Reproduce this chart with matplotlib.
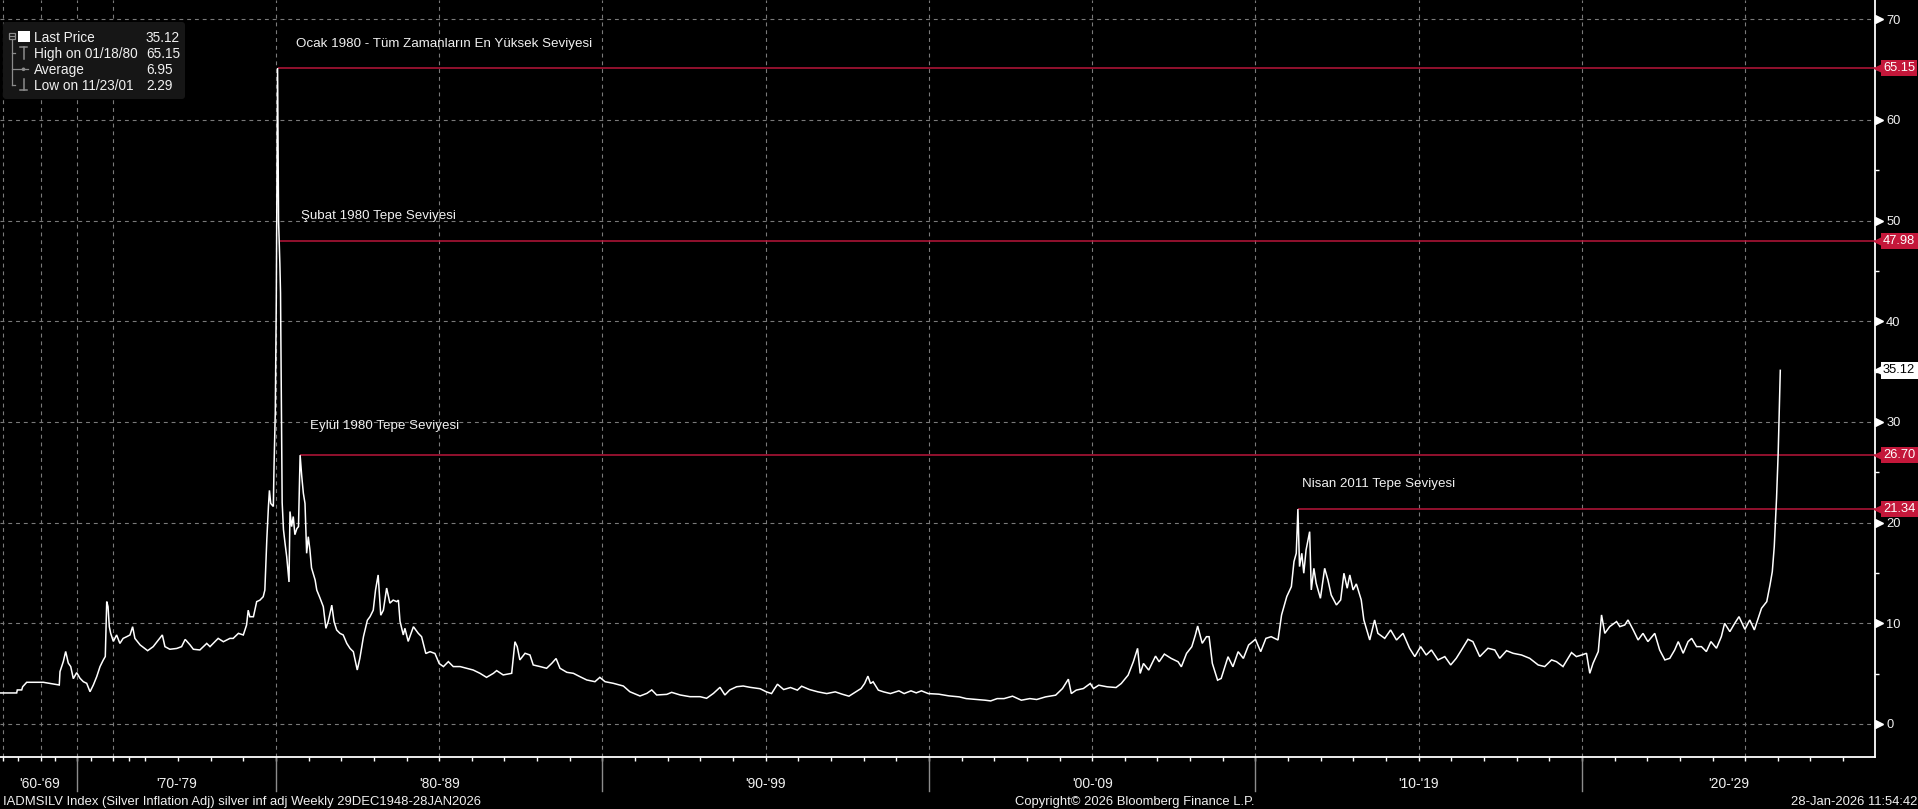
import numpy as np
import matplotlib
matplotlib.use("Agg")
import matplotlib.pyplot as plt
from matplotlib import transforms
from matplotlib.patches import Rectangle, FancyBboxPatch, Circle
from matplotlib.lines import Line2D
from matplotlib.ticker import FixedLocator, NullFormatter, FixedFormatter

plt.rcParams['font.family'] = ['Liberation Sans', 'DejaVu Sans']

# ---------------- data ----------------
YEARS = [
    1959.56, 1961.79, 1961.87, 1962.46, 1962.59, 1963.13, 1965.36, 1967.58, 1967.68, 1968.14,
    1968.47, 1968.83, 1969.17, 1969.53, 1970.00, 1970.46, 1970.92, 1971.39, 1971.85, 1972.31,
    1972.78, 1973.24, 1973.69, 1973.97, 1974.17, 1974.35, 1974.53, 1974.72, 1975.02,
    1975.12, 1975.22, 1975.32, 1975.43, 1975.53, 1975.61, 1975.68, 1975.84, 1976.07, 1976.24,
    1976.40, 1976.52, 1976.60, 1976.75, 1976.96, 1977.11, 1977.22, 1977.37, 1977.47, 1977.67,
    1977.88, 1977.98, 1978.23, 1978.39, 1978.59, 1978.69, 1978.85, 1979.00, 1979.10, 1979.15,
    1979.20, 1979.31, 1979.41, 1979.51, 1979.61, 1979.66, 1979.72, 1979.77, 1979.80, 1979.84,
    1979.92, 1979.94,
    1979.98, 1980.01, 1980.05, 1980.08, 1980.10, 1980.12, 1980.14, 1980.19, 1980.23, 1980.28,
    1980.33, 1980.40, 1980.43, 1980.48, 1980.53, 1980.58, 1980.64, 1980.69, 1980.74, 1980.79,
    1980.84, 1980.89, 1980.94, 1980.99, 1981.04, 1981.09, 1981.20, 1981.25, 1981.35, 1981.45,
    1981.53, 1981.60, 1981.71, 1981.78, 1981.86, 1981.96, 1982.06, 1982.17, 1982.27, 1982.37,
    1982.49, 1982.57, 1982.68, 1982.80, 1982.88, 1982.98, 1983.05, 1983.13, 1983.21, 1983.29,
    1983.39, 1983.49, 1983.59, 1983.70, 1983.75, 1983.80, 1983.90, 1983.95, 1984.05, 1984.21,
    1984.36, 1984.46, 1984.59, 1984.72, 1984.87, 1985.00, 1985.13, 1985.28, 1985.43, 1985.64,
    1985.84, 1986.04, 1986.25, 1986.45, 1986.66, 1986.76, 1986.96, 1987.22, 1987.32, 1987.39,
    1987.47, 1987.63, 1987.78, 1987.88, 1988.09, 1988.29, 1988.45, 1988.58, 1988.70, 1988.91,
    1989.11, 1989.31, 1989.52, 1989.77, 1989.92, 1990.08, 1990.33, 1990.64, 1990.84, 1991.15,
    1991.36, 1991.51, 1991.66, 1991.97, 1992.12, 1992.38, 1992.68, 1992.99, 1993.19, 1993.40,
    1993.60, 1993.75, 1993.90, 1994.11, 1994.31, 1994.52, 1994.83,
    1995.02, 1995.18, 1995.36, 1995.55, 1995.76, 1995.97, 1996.10, 1996.34, 1996.60, 1996.87,
    1997.13, 1997.34, 1997.55, 1997.76, 1997.92, 1998.03, 1998.13, 1998.21, 1998.29, 1998.45,
    1998.61, 1998.82, 1999.08, 1999.24, 1999.45, 1999.61, 1999.77, 1999.98, 2000.30, 2000.61,
    2000.93, 2001.14, 2001.46, 2001.72, 2001.89, 2002.09, 2002.30, 2002.56, 2002.83, 2003.09,
    2003.30, 2003.57, 2003.88, 2004.09, 2004.27, 2004.36, 2004.51, 2004.73, 2004.94, 2005.04,
    2005.20, 2005.46, 2005.73, 2005.89, 2006.10, 2006.26, 2006.39, 2006.47, 2006.57, 2006.73,
    2006.94, 2007.05, 2007.21, 2007.42, 2007.63, 2007.73, 2007.89, 2008.05, 2008.16, 2008.23,
    2008.37, 2008.50, 2008.58, 2008.68, 2008.84, 2008.95, 2009.16, 2009.31, 2009.47, 2009.63,
    2009.79, 2010.00, 2010.16, 2010.32, 2010.48, 2010.69, 2010.80, 2010.96,
    2011.10, 2011.18, 2011.25, 2011.30, 2011.35, 2011.42, 2011.48, 2011.55, 2011.66, 2011.71,
    2011.79, 2011.86, 2011.99, 2012.12, 2012.22, 2012.32, 2012.48, 2012.61, 2012.71, 2012.81,
    2012.89, 2012.99, 2013.09, 2013.24, 2013.32, 2013.50, 2013.65, 2013.75, 2013.96, 2014.14,
    2014.32, 2014.52, 2014.72, 2014.88, 2015.06, 2015.23, 2015.39, 2015.59, 2015.80, 2015.98,
    2016.15, 2016.31, 2016.51, 2016.66, 2016.87, 2017.12, 2017.33, 2017.48, 2017.69, 2017.89,
    2018.15, 2018.40, 2018.66, 2018.86, 2019.07, 2019.22, 2019.42, 2019.68, 2019.83, 2019.99,
    2020.14, 2020.24, 2020.34, 2020.50, 2020.60, 2020.70, 2020.85, 2021.06, 2021.16, 2021.31,
    2021.41, 2021.57, 2021.72, 2021.87, 2022.02, 2022.23, 2022.38, 2022.54, 2022.69, 2022.84,
    2022.95, 2023.10, 2023.25, 2023.36, 2023.51, 2023.66, 2023.81, 2023.95, 2024.12, 2024.27,
    2024.37, 2024.53, 2024.68, 2024.81, 2024.99, 2025.14, 2025.28, 2025.40, 2025.50, 2025.66,
    2025.76, 2025.83, 2025.89, 2025.96, 2026.01, 2026.075,
]
VALUES = [
    3.08, 3.08, 3.38, 3.38, 3.70, 4.14, 4.14, 3.87, 5.20, 6.20,
    7.20, 6.05, 5.70, 4.50, 5.10, 4.54, 4.20, 4.04, 3.20, 3.87,
    4.70, 5.70, 6.35, 6.70, 12.15, 11.65, 9.66, 9.00, 8.20,
    8.84, 8.00, 8.50, 8.67, 8.84, 9.66, 8.50, 7.85, 7.28, 7.68,
    8.34, 8.84, 7.68, 7.42, 7.50, 7.68, 8.40, 7.85, 7.42, 7.35,
    8.00, 7.68, 8.50, 8.17, 8.50, 8.50, 9.00, 8.84, 9.83, 11.30,
    10.65, 10.65, 12.15, 12.30, 12.64, 13.30, 18.30, 21.60, 23.20, 21.90,
    21.60, 25.40,
    31.0, 42.0, 65.15, 50.0, 47.98, 45.7, 42.8, 22.0, 19.3, 17.9,
    16.6, 14.1, 21.1, 19.6, 20.6, 18.8, 19.4, 19.6, 26.70, 24.6,
    22.9, 21.9, 16.95, 18.6, 17.3, 15.5, 14.3, 13.3, 12.5, 11.65,
    9.5, 10.16, 11.8, 10.16, 9.33, 9.0, 8.84, 8.0, 7.5, 7.18,
    5.36, 6.52, 8.67, 10.3, 10.65, 11.3, 13.3, 14.8, 10.8, 11.3,
    13.5, 12.0, 12.3, 12.15, 12.3, 10.2, 8.84, 9.5, 8.2, 9.66,
    9.0, 8.67, 7.0, 7.18, 7.0, 6.0, 5.7, 6.19, 5.7, 5.7,
    5.53, 5.36, 5.03, 4.63, 5.03, 5.3, 4.87, 5.03, 8.17, 7.68,
    6.36, 7.02, 6.85, 5.86, 5.7, 5.53, 6.03, 6.5, 5.53, 5.13,
    5.03, 4.7, 4.37, 4.2, 4.63, 4.2, 4.04, 3.77, 3.2, 2.78,
    3.04, 3.38, 2.88, 2.94, 3.14, 2.88, 2.71, 2.71, 2.55, 3.04,
    3.64, 2.88, 3.38, 3.70, 3.77, 3.64, 3.50,
    3.19, 3.02, 3.95, 3.42, 3.62, 3.36, 3.75, 3.42, 3.19, 3.02,
    3.19, 2.96, 2.76, 3.19, 3.52, 4.02, 4.75, 4.02, 4.19, 3.36,
    3.19, 3.02, 3.29, 3.02, 3.29, 3.09, 3.29, 3.02, 2.96, 2.79,
    2.69, 2.52, 2.43, 2.36, 2.29, 2.52, 2.52, 2.76, 2.36, 2.52,
    2.43, 2.69, 2.86, 3.52, 4.45, 3.02, 3.36, 3.52, 4.02, 3.52,
    3.85, 3.69, 3.62, 4.02, 4.85, 6.18, 7.51, 5.02, 6.01, 5.35,
    6.74, 6.18, 6.94, 6.51, 6.18, 5.68, 7.01, 7.67, 8.84, 9.73,
    8.01, 8.67, 8.67, 6.01, 4.35, 4.52, 6.68, 5.68, 7.18, 6.51,
    7.84, 8.41, 7.18, 8.50, 8.67, 8.34, 10.83, 12.66,
    13.64, 16.13, 16.95, 21.34, 15.63, 16.95, 14.97, 17.28, 19.10, 13.31,
    15.46, 13.97, 12.48, 15.46, 14.30, 12.81, 11.82, 12.32, 14.97, 13.48,
    14.80, 13.31, 13.91, 12.32, 10.33, 8.34, 10.33, 9.00, 8.50, 9.34,
    8.34, 9.00, 7.52, 6.69, 7.68, 6.85, 7.35, 6.36, 6.69, 5.86,
    6.52, 7.35, 8.41, 8.18, 6.69, 7.52, 7.35, 6.52, 7.28, 7.02,
    6.85, 6.52, 5.86, 5.70, 6.36, 6.19, 5.70, 7.09, 6.69, 6.85,
    7.02, 5.03, 6.03, 7.19, 10.83, 9.00, 9.67, 10.17, 9.67, 9.83,
    10.33, 9.34, 8.34, 9.00, 8.18, 9.00, 7.35, 6.36, 6.52, 7.35,
    8.18, 7.02, 8.18, 8.50, 7.68, 7.68, 7.19, 8.18, 7.52, 8.68,
    10.00, 9.17, 10.00, 10.66, 9.40, 10.33, 9.34, 10.50, 11.49, 12.15,
    13.81, 15.13, 17.62, 22.42, 26.89, 35.12,
]

PEAK_YEARS = [1980.05, 1980.10, 1980.74, 2011.30]
PEAK_VALUES = [65.15, 47.98, 26.70, 21.34]
PEAK_LABELS = [
    "Ocak 1980 - Tüm Zamanların En Yüksek Seviyesi",
    "Şubat 1980 Tepe Seviyesi",
    "Eylül 1980 Tepe Seviyesi",
    "Nisan 2011 Tepe Seviyesi",
]
LAST_PRICE = 35.12

Y_TICKS = [0, 10, 20, 30, 40, 50, 60, 70]
Y_MINOR = [5, 15, 25, 35, 45, 55, 65]
GRID_YEARS = [1960, 1965, 1970, 1975, 1980, 1985, 1990, 1995, 2000, 2005,
              2010, 2015, 2020, 2025]
DECADES = [1960, 1970, 1980, 1990, 2000, 2010, 2020]
DECADE_LABELS = ["'60-'69", "'70-'79", "'80-'89", "'90-'99", "'00-'09", "'10-'19", "'20-'29"]
X_MINOR = [1960, 1962, 1965, 1967, 1970, 1972, 1975, 1975.5] + list(range(1976, 2029))

LEGEND_NAMES = ["Last Price", "High on 01/18/80", "Average", "Low on 11/23/01"]
LEGEND_VALUES = ["35.12", "65.15", "6.95", "2.29"]

FOOTER_LEFT = "IADMSILV Index (Silver Inflation Adj) silver inf adj Weekly 29DEC1948-28JAN2026"
FOOTER_MID = "Copyright© 2026 Bloomberg Finance L.P."
FOOTER_RIGHT = "28-Jan-2026 11:54:42"

# Bloomberg spaces observations evenly: pre-1975 points are monthly (compressed)
SCALE_YEARS = [1950.0, 1960.0, 1965.0, 1970.0, 1975.0, 2035.0]
SCALE_POS = [-71.5, 3.3, 40.7, 76.7, 112.7, 2071.7]

# ---------------- style ----------------
RED = "#c4173a"
RED_LINE = "#b8163a"
GRID = "#7a7a7a"
TXT = "#f0f0f0"

W, H = 1918, 809
fig = plt.figure(figsize=(W / 100, H / 100), dpi=100, facecolor="black")
AX_W, AX_B = 1875, 757
ax = fig.add_axes([0, 1 - AX_B / H, AX_W / W, AX_B / H], facecolor="black")

fwd = lambda x: np.interp(x, SCALE_YEARS, SCALE_POS)
inv = lambda p: np.interp(p, SCALE_POS, SCALE_YEARS)
ax.set_xscale("function", functions=(fwd, inv))
x0, x1 = float(inv(0.0)), float(inv(AX_W))
ax.set_xlim(x0, x1)
ax.set_ylim(-3.28, 71.9)

# grid
gkw = dict(color=GRID, lw=0.8, ls=(0, (3.5, 3.5)), zorder=1)
for yv in Y_TICKS:
    ax.axhline(yv, **gkw)
for gx in GRID_YEARS:
    ax.axvline(gx, **gkw)

# series
ax.plot(YEARS, VALUES, color="white", lw=1.1, zorder=4, solid_joinstyle="miter")

# peak lines and labels
label_offsets = [(18, 21), (22, 22), (10, 26), (4, 22)]
for yr, v, lab, (dx, dy) in zip(PEAK_YEARS, PEAK_VALUES, PEAK_LABELS, label_offsets):
    ax.hlines(v, yr, x1, color=RED_LINE, lw=1.1, zorder=3)
    ax.annotate(lab, xy=(yr, v), xytext=(dx, dy), textcoords="offset pixels",
                color=TXT, fontsize=9.6, ha="left", va="baseline", zorder=6)

# spines
for s in ["left", "top"]:
    ax.spines[s].set_visible(False)
ax.spines["right"].set_color("white")
ax.spines["right"].set_linewidth(1.3)
ax.spines["bottom"].set_color("white")
ax.spines["bottom"].set_linewidth(1.3)

# y axis on the right
ax.yaxis.set_ticks_position("right")
ax.yaxis.set_major_locator(FixedLocator(Y_TICKS))
ax.yaxis.set_minor_locator(FixedLocator(Y_MINOR))
ax.tick_params(axis="y", which="major", length=0, pad=8, labelcolor=TXT,
               labelsize=9.3, labelright=True, labelleft=False)
ax.tick_params(axis="y", which="minor", length=3, width=1, color="white",
               direction="out")

# x axis
ax.xaxis.set_major_locator(FixedLocator([]))
ax.xaxis.set_minor_locator(FixedLocator(X_MINOR))
ax.xaxis.set_minor_formatter(NullFormatter())
ax.tick_params(axis="x", which="minor", length=3, width=1, color="white", direction="out")

trans_y = transforms.blended_transform_factory(ax.transAxes, ax.transData)
def px_off(t, dx, dy=0):
    return t + transforms.ScaledTranslation(dx / 100, dy / 100, fig.dpi_scale_trans)

# tick arrows
ax.plot([1.0] * len(Y_TICKS), Y_TICKS, ls="none", marker=">", ms=5.5, color="white",
        transform=px_off(trans_y, 4), clip_on=False, zorder=7)

# value labels on the axis
for v in PEAK_VALUES:
    ax.plot([1.0], [v], ls="none", marker="<", ms=5.5, color=RED,
            transform=px_off(trans_y, 3), clip_on=False, zorder=7)
    ax.text(1.0, v, f"{v:.2f}", transform=px_off(trans_y, 8), ha="left", va="center",
            color="white", fontsize=9.3, zorder=8, clip_on=False,
            bbox=dict(boxstyle="square,pad=0.18", fc=RED, ec="none"))
ax.plot([1.0], [LAST_PRICE], ls="none", marker="<", ms=5.5, color="white",
        transform=px_off(trans_y, 3), clip_on=False, zorder=7)
ax.text(1.0, LAST_PRICE, f"{LAST_PRICE:.2f}", transform=px_off(trans_y, 8), ha="left",
        va="center", color="black", fontsize=9.3, zorder=8, clip_on=False,
        bbox=dict(boxstyle="square,pad=0.18", fc="white", ec="none"))

# decade separators and labels
trans_x = transforms.blended_transform_factory(ax.transData, ax.transAxes)
for d in DECADES[1:]:
    ax.plot([d, d], [0, -0.045], color="#8c8c8c", lw=1, transform=trans_x, clip_on=False)
for d, lab in zip(DECADES, DECADE_LABELS):
    p0 = max(float(fwd(d)), 0.0)
    p1 = min(float(fwd(d + 10)), float(AX_W))
    ax.text(float(inv((p0 + p1) / 2)), -0.0414, lab, transform=trans_x, ha="center",
            va="baseline", color=TXT, fontsize=10)

# footer
fig.text(3 / W, 1 - 805 / H, FOOTER_LEFT, color=TXT, fontsize=9.4, ha="left", va="baseline")
fig.text(1015 / W, 1 - 805 / H, FOOTER_MID, color=TXT, fontsize=9.4, ha="left", va="baseline")
fig.text(1 - 1 / W, 1 - 805 / H, FOOTER_RIGHT, color=TXT, fontsize=9.4, ha="right", va="baseline")

# legend (pixel coordinates, y downward)
T = transforms.Affine2D().scale(1 / W, -1 / H).translate(0, 1) + fig.transFigure
fig.add_artist(FancyBboxPatch((3, 22), 182, 77, boxstyle="round,pad=0,rounding_size=3",
                              transform=T, fc="#161616", ec="none", zorder=10))
LG = "#8c8c8c"
def seg(xs, ys, c=LG, lw=0.9):
    fig.add_artist(Line2D(xs, ys, transform=T, color=c, lw=lw, zorder=11))
# tree
fig.add_artist(Rectangle((8.5, 32.5), 6.5, 6.5, transform=T, fill=False, ec=LG, lw=0.9, zorder=11))
seg([10, 13.5], [35.75, 35.75])
seg([11.75, 11.75], [39, 85])
seg([11.75, 15], [53.3, 53.3])
seg([11.75, 28], [69.3, 69.3])
seg([11.75, 15], [85, 85])
# icons
fig.add_artist(Rectangle((18.3, 30.7), 11.7, 11.6, transform=T, fc="white", ec="none", zorder=11))
seg([20, 27], [47, 47], lw=1.1)
seg([23.5, 23.5], [47, 59], lw=1.1)
fig.add_artist(Circle((23.5, 69.3), 1.8, transform=T, fc=LG, ec="none", zorder=11))
seg([23.5, 23.5], [79, 90.5], lw=1.1)
seg([20, 27], [90.5, 90.5], lw=1.1)
baselines = [41.7, 57.7, 73.7, 90.0]
for name, val, b in zip(LEGEND_NAMES, LEGEND_VALUES, baselines):
    fig.text(34, b, name, transform=T, color=TXT, fontsize=9.8, ha="left", va="baseline", zorder=12)
    fig.text(146, b, val, transform=T, color=TXT, fontsize=9.8, ha="left", va="baseline", zorder=12)

fig.savefig("out.png", dpi=100, facecolor="black")
